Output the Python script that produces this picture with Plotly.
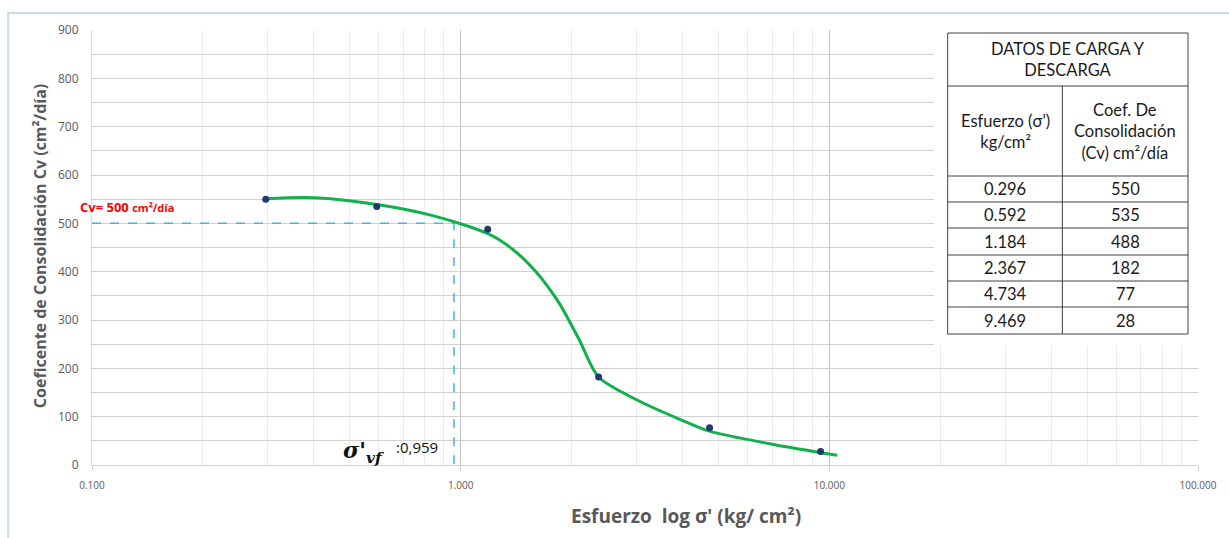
import plotly.graph_objects as go

# Laboratory results: effective stress vs coefficient of consolidation
esfuerzo = [0.296, 0.592, 1.184, 2.367, 4.734, 9.469]
cv = [550, 535, 488, 182, 77, 28]

# Hand-fitted trend curve (stress, Cv)
curva_x = [0.296, 0.40, 0.592, 0.85, 1.19, 1.38, 1.6, 1.85, 2.1, 2.367, 3.0, 4.0, 4.73, 7.0, 10.5]
curva_y = [551, 553, 539, 515, 478, 447, 400, 335, 258, 182, 135, 92, 70, 43, 20]

# Reference reading
cv_ref = 500
sigma_vf = 0.959

x_ticks = [0.1, 1, 10, 100]
x_tick_text = ["0.100", "1.000", "10.000", "100.000"]

GRAY = "#595959"
fig = go.Figure()

# dashed reference lines
fig.add_trace(go.Scatter(
    x=[x_ticks[0], sigma_vf, sigma_vf], y=[cv_ref, cv_ref, 0],
    mode="lines", line=dict(color="#3db5ea", width=1.5, dash="dash"),
    hoverinfo="skip", showlegend=False))

# trend curve
fig.add_trace(go.Scatter(
    x=curva_x, y=curva_y, mode="lines",
    line=dict(color="#12b04a", width=3, shape="spline", smoothing=0.8),
    showlegend=False))

# measured points
fig.add_trace(go.Scatter(
    x=esfuerzo, y=cv, mode="markers",
    marker=dict(color="#1f3a6e", size=7),
    showlegend=False))

fig.update_xaxes(
    type="log", range=[-1, 2],
    tickvals=x_ticks, ticktext=x_tick_text,
    tickfont=dict(family="Open Sans", size=10, color=GRAY),
    showgrid=True, gridcolor="#c2c2c2", gridwidth=1,
    minor=dict(dtick="D1", showgrid=True, gridcolor="#ebebeb", ticks=""),
    showline=True, linecolor="#d0d0d0", linewidth=1,
    ticks="outside", ticklen=5, tickcolor="#d0d0d0",
    ticklabelstandoff=6,
    zeroline=False,
)
fig.update_yaxes(
    range=[0, 900], dtick=100,
    tickfont=dict(family="Open Sans", size=12, color=GRAY),
    showgrid=True, gridcolor="#d0d0d0", gridwidth=1.4,
    minor=dict(dtick=50, showgrid=True, gridcolor="#d0d0d0"),
    showline=True, linecolor="#d9d9d9", linewidth=1,
    zeroline=False, ticks="", ticklabelstandoff=10,
)

L, R, T, B = 92, 28, 30, 73
W, H = 1229, 538
pw, ph = W - L - R, H - T - B


def px(xp):
    return (xp - L) / pw


def py(yp):
    return (H - B - yp) / ph


shapes = []
annotations = []

# outer chart border
shapes.append(dict(type="rect", xref="paper", yref="paper",
                   x0=px(8), x1=px(1240), y0=py(560), y1=py(13),
                   line=dict(color="#c9daea", width=2), layer="below"))

# data table (white box + cell borders)
tx0, tx1, txm = 950, 1191, 1065
rows_y = [33, 86, 176, 202, 228, 255, 281, 307, 334]
shapes.append(dict(type="rect", xref="paper", yref="paper",
                   x0=px(936), x1=px(1208), y0=py(346), y1=py(22),
                   fillcolor="white", line=dict(width=0), layer="above"))
shapes.append(dict(type="rect", xref="paper", yref="paper",
                   x0=px(tx0), x1=px(tx1), y0=py(rows_y[-1]), y1=py(rows_y[0]),
                   line=dict(color="#404040", width=1), layer="above"))
for ry in rows_y[1:-1]:
    shapes.append(dict(type="line", xref="paper", yref="paper",
                       x0=px(tx0), x1=px(tx1), y0=py(ry), y1=py(ry),
                       line=dict(color="#404040", width=1), layer="above"))
shapes.append(dict(type="line", xref="paper", yref="paper",
                   x0=px(txm), x1=px(txm), y0=py(rows_y[-1]), y1=py(rows_y[1]),
                   line=dict(color="#404040", width=1), layer="above"))

TF = dict(family="Lato", size=16.5, color="#1a1a1a")


def cell(xc, yc, text):
    annotations.append(dict(xref="paper", yref="paper", x=px(xc), y=py(yc),
                            xanchor="center", yanchor="middle",
                            text=text, showarrow=False, font=TF))


cell((tx0 + tx1) / 2, (rows_y[0] + rows_y[1]) / 2, "DATOS DE CARGA Y<br>DESCARGA")
cell((tx0 + txm) / 2, (rows_y[1] + rows_y[2]) / 2, "Esfuerzo (σ')<br>kg/cm²")
cell((txm + tx1) / 2, (rows_y[1] + rows_y[2]) / 2, "Coef. De<br>Consolidación<br>(Cv) cm²/día")
for i, (s, c) in enumerate(zip(esfuerzo, cv)):
    yc = (rows_y[i + 2] + rows_y[i + 3]) / 2
    cell((tx0 + txm) / 2, yc, f"{s:.3f}")
    cell((txm + tx1) / 2, yc, f"{c}")

# Cv reference label
annotations.append(dict(xref="paper", yref="paper", x=px(78), y=py(207),
                        xanchor="left", yanchor="middle",
                        text="<b>Cv= 500 </b><b><span style='font-size:11px'>cm²/día</span></b>",
                        showarrow=False, font=dict(family="Open Sans", size=13, color="#ff0000")))
# sigma'vf label
annotations.append(dict(xref="paper", yref="paper", x=px(342), y=py(452),
                        xanchor="left", yanchor="middle",
                        text="<b><i>σ'</i></b><sub><b><i>vf</i></b></sub>",
                        showarrow=False, font=dict(family="DejaVu Serif", size=22, color="#111111")))
annotations.append(dict(xref="paper", yref="paper", x=px(395), y=py(447),
                        xanchor="left", yanchor="middle",
                        text=":0,959", showarrow=False,
                        font=dict(family="Open Sans", size=15, color="#111111")))

# axis titles
annotations.append(dict(xref="paper", yref="paper", x=px(688), y=py(516),
                        xanchor="center", yanchor="middle",
                        text="<b>Esfuerzo  log σ' (kg/ cm²)</b>", showarrow=False,
                        font=dict(family="Open Sans", size=19, color=GRAY)))
annotations.append(dict(xref="paper", yref="paper", x=px(40), y=py(246),
                        xanchor="center", yanchor="middle", textangle=-90,
                        text="<b>Coeficente de Consolidación Cv (cm²/día)</b>", showarrow=False,
                        font=dict(family="Open Sans", size=16, color=GRAY)))

fig.update_layout(
    width=W, height=H,
    margin=dict(l=L, r=R, t=T, b=B),
    paper_bgcolor="white", plot_bgcolor="white",
    shapes=shapes, annotations=annotations,
    showlegend=False,
)

fig.write_html("out.html")
